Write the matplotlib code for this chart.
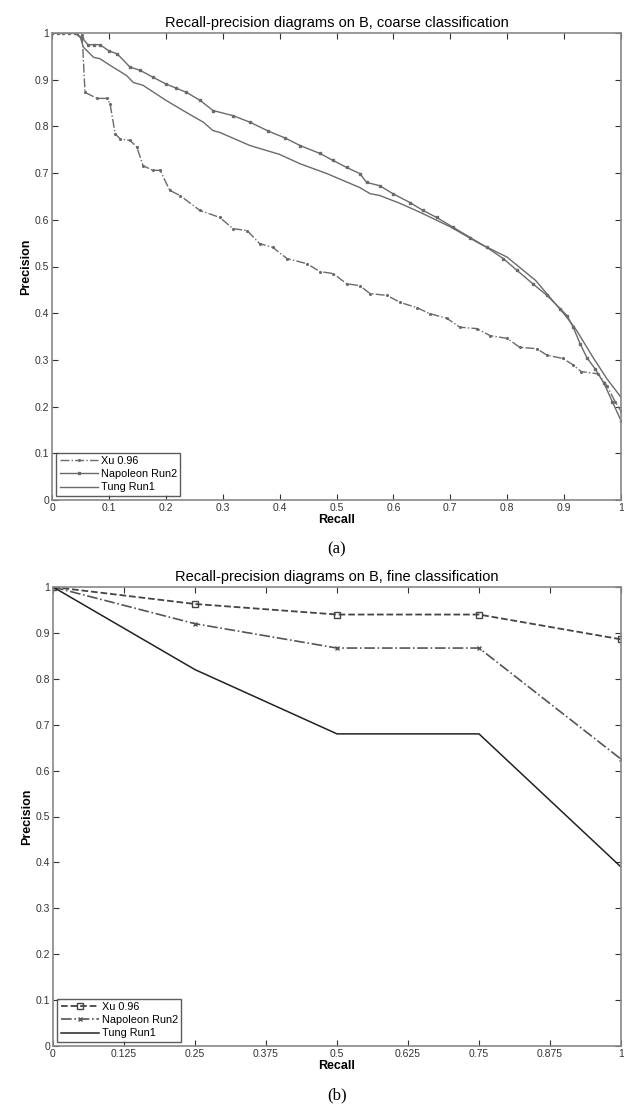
import matplotlib
matplotlib.use('Agg')
import matplotlib.pyplot as plt

plt.rcParams['font.family'] = ['Liberation Sans', 'DejaVu Sans']

# (a) coarse classification
xu_r = [0.0, 0.02, 0.04, 0.053, 0.058, 0.079, 0.096, 0.102, 0.111, 0.12, 0.137, 0.149,
        0.16, 0.177, 0.19, 0.207, 0.225, 0.26, 0.295, 0.318, 0.343, 0.365, 0.388,
        0.413, 0.448, 0.471, 0.494, 0.518, 0.541, 0.559, 0.589, 0.612, 0.641, 0.664,
        0.694, 0.717, 0.747, 0.77, 0.8, 0.822, 0.852, 0.87, 0.898, 0.915, 0.93, 0.96,
        0.975, 0.99, 1.0]
xu_p = [1.0, 1.0, 1.0, 0.995, 0.873, 0.86, 0.86, 0.849, 0.784, 0.773, 0.77, 0.756,
        0.716, 0.706, 0.706, 0.663, 0.652, 0.62, 0.605, 0.581, 0.577, 0.549, 0.541,
        0.517, 0.506, 0.489, 0.485, 0.463, 0.459, 0.442, 0.438, 0.423, 0.412, 0.399,
        0.389, 0.37, 0.367, 0.352, 0.346, 0.327, 0.324, 0.31, 0.303, 0.29, 0.275, 0.27,
        0.245, 0.21, 0.19]

nap_r = [0.0, 0.01, 0.02, 0.03, 0.04, 0.053, 0.063, 0.074, 0.084, 0.1, 0.115, 0.137,
         0.155, 0.178, 0.2, 0.218, 0.236, 0.26, 0.283, 0.318, 0.348, 0.38, 0.41,
         0.436, 0.471, 0.494, 0.518, 0.541, 0.553, 0.576, 0.599, 0.629, 0.652, 0.676,
         0.705, 0.735, 0.764, 0.793, 0.817, 0.845, 0.87, 0.893, 0.905, 0.916, 0.928,
         0.94, 0.955, 0.97, 0.985, 1.0]
nap_p = [1.0, 1.0, 1.0, 1.0, 1.0, 0.99, 0.975, 0.975, 0.975, 0.962, 0.955, 0.927,
         0.92, 0.905, 0.891, 0.882, 0.873, 0.856, 0.834, 0.823, 0.809, 0.79, 0.775,
         0.759, 0.742, 0.727, 0.712, 0.699, 0.68, 0.673, 0.656, 0.637, 0.62, 0.605,
         0.584, 0.562, 0.541, 0.517, 0.492, 0.463, 0.438, 0.41, 0.395, 0.37, 0.335,
         0.305, 0.28, 0.25, 0.21, 0.17]

tung_r = [0.0, 0.04, 0.05, 0.055, 0.073, 0.084, 0.107, 0.131, 0.143, 0.16, 0.2, 0.236,
          0.266, 0.283, 0.295, 0.348, 0.4, 0.436, 0.483, 0.541, 0.559, 0.576, 0.612,
          0.647, 0.7, 0.75, 0.8, 0.85, 0.905, 0.922, 0.951, 0.975, 1.0]
tung_p = [1.0, 1.0, 0.99, 0.97, 0.948, 0.945, 0.927, 0.909, 0.894, 0.888, 0.856, 0.83,
          0.809, 0.791, 0.787, 0.759, 0.74, 0.72, 0.699, 0.669, 0.656, 0.652, 0.635,
          0.616, 0.585, 0.55, 0.52, 0.47, 0.391, 0.363, 0.305, 0.26, 0.22]

# (b) fine classification
fine_r = [0, 0.25, 0.5, 0.75, 1.0]
xu_fine = [1.0, 0.963, 0.94, 0.94, 0.886]
nap_fine = [1.0, 0.92, 0.867, 0.867, 0.625]
tung_fine = [1.0, 0.82, 0.68, 0.68, 0.39]

labels = ['Xu 0.96', 'Napoleon Run2', 'Tung Run1']
coarse_ticks = [0, 0.1, 0.2, 0.3, 0.4, 0.5, 0.6, 0.7, 0.8, 0.9, 1]
coarse_ticklabels = ['0', '0.1', '0.2', '0.3', '0.4', '0.5', '0.6', '0.7', '0.8', '0.9', '1']
fine_ticks = [0, 0.125, 0.25, 0.375, 0.5, 0.625, 0.75, 0.875, 1]
fine_ticklabels = ['0', '0.125', '0.25', '0.375', '0.5', '0.625', '0.75', '0.875', '1']

W, H = 624, 1109
fig = plt.figure(figsize=(W / 100, H / 100), dpi=100)
ax1 = fig.add_axes([52 / W, 1 - 500 / H, 569 / W, 467 / H])
ax2 = fig.add_axes([53 / W, 1 - 1046 / H, 568 / W, 459 / H])

grey = '#6a6a6a'


def style(ax, xticks, xticklabels, title):
    ax.set_xlim(0, 1)
    ax.set_ylim(0, 1)
    ax.set_xticks(xticks)
    ax.set_xticklabels(xticklabels)
    ax.set_yticks(coarse_ticks)
    ax.set_yticklabels(coarse_ticklabels)
    ax.tick_params(direction='in', top=True, right=True, length=4, width=0.8,
                   labelsize=7.5, colors='#333333', pad=2)
    for s in ax.spines.values():
        s.set_color('#888888')
        s.set_linewidth(1.2)
    ax.set_xlabel('Recall', fontsize=9, fontweight='bold', labelpad=1)
    ax.set_ylabel('Precision', fontsize=9, fontweight='bold', labelpad=2)
    ax.set_title(title, fontsize=10.5, pad=4)


def legend(ax):
    leg = ax.legend(loc='lower left', fontsize=7.8, frameon=True, fancybox=False,
                    edgecolor='#333333', borderpad=0.3, labelspacing=0.3,
                    handlelength=3.5, handletextpad=0.3, borderaxespad=0.4)
    leg.get_frame().set_linewidth(1.0)


ax1.plot(xu_r, xu_p, color=grey, lw=1.0, ls='-.', marker='.', ms=2.5, label=labels[0])
ax1.plot(nap_r, nap_p, color=grey, lw=1.0, ls='-', marker='s', ms=2, label=labels[1])
ax1.plot(tung_r, tung_p, color=grey, lw=1.0, ls='-', label=labels[2])
style(ax1, coarse_ticks, coarse_ticklabels,
      'Recall-precision diagrams on B, coarse classification')
legend(ax1)

ax2.plot(fine_r, xu_fine, color='#444444', lw=1.3, ls='--', marker='s', ms=5,
         mfc='none', label=labels[0])
ax2.plot(fine_r, nap_fine, color='#555555', lw=1.2, ls='-.', marker='x', ms=3,
         label=labels[1])
ax2.plot(fine_r, tung_fine, color='#222222', lw=1.1, ls='-', label=labels[2])
style(ax2, fine_ticks, fine_ticklabels,
      'Recall-precision diagrams on B, fine classification')
legend(ax2)

fig.text(337 / W, 1 - 549 / H, '(a)', ha='center', va='center', fontsize=12,
         family=['Liberation Serif', 'DejaVu Serif'])
fig.text(337 / W, 1 - 1095 / H, '(b)', ha='center', va='center', fontsize=12,
         family=['Liberation Serif', 'DejaVu Serif'])

fig.savefig('out.png', dpi=100)
